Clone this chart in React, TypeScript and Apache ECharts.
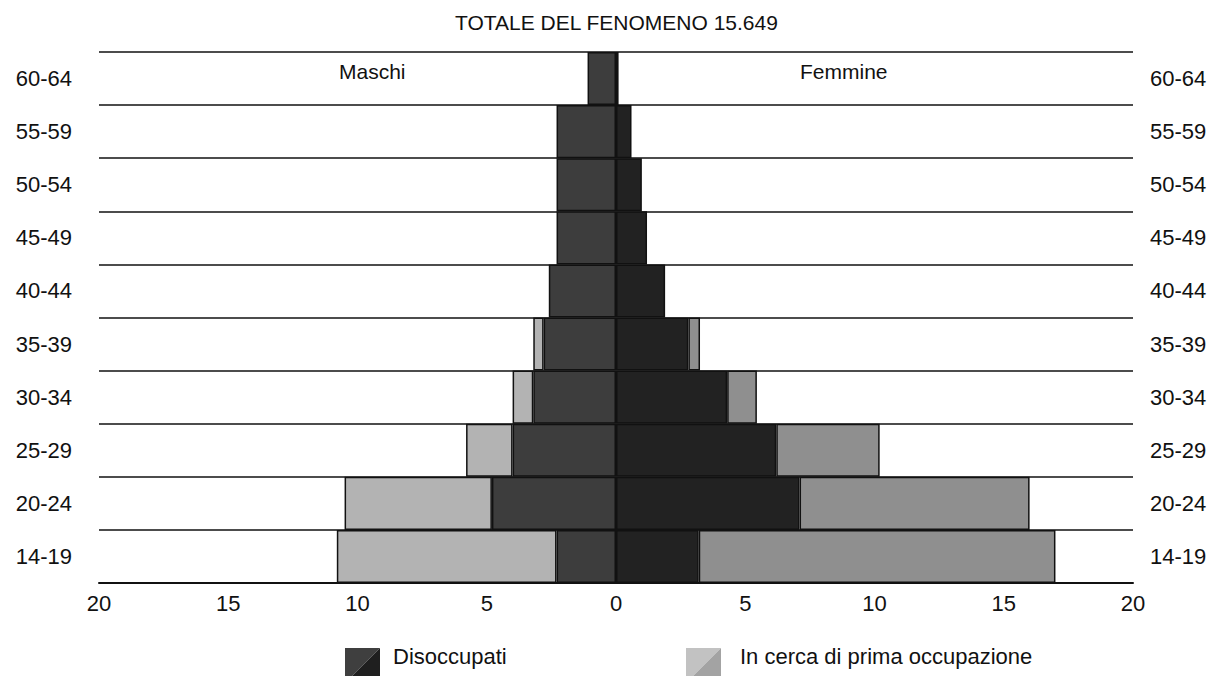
import React, { useEffect, useRef } from "react";
import * as echarts from "echarts";

const ageGroups = ["14-19", "20-24", "25-29", "30-34", "35-39", "40-44", "45-49", "50-54", "55-59", "60-64"];
// Maschi (left side)
const maleDisoccupati = [2.3, 4.8, 4.0, 3.2, 2.8, 2.6, 2.3, 2.3, 2.3, 1.1];
const maleInCerca: (number | string)[] = [8.5, 5.7, 1.8, 0.8, 0.4, "-", "-", "-", "-", "-"];
// Femmine (right side)
const femaleDisoccupati = [3.2, 7.1, 6.2, 4.3, 2.8, 1.9, 1.2, 1.0, 0.6, 0.1];
const femaleInCerca: (number | string)[] = [13.8, 8.9, 4.0, 1.15, 0.45, "-", "-", "-", "-", "-"];
const xTicks = { min: -20, max: 20, interval: 5 };
const titleText = "TOTALE DEL FENOMENO 15.649";
const sideLabels = ["Maschi", "Femmine"];
const legendLabels = ["Disoccupati", "In cerca di prima occupazione"];

const FONT = "'Liberation Sans', Arial, Helvetica, sans-serif";
const TXT = "#111111";

export default function App() {
  const ref = useRef<HTMLDivElement>(null);
  useEffect(() => {
    if (!ref.current) return;
    const chart = echarts.init(ref.current, undefined, { renderer: "svg" });
    const neg = (arr: (number | string)[]) => arr.map((v) => (typeof v === "number" ? -v : v));
    const barStyle = (color: string) => ({ color, borderColor: "#111", borderWidth: 1.5 });
    chart.setOption({
      animation: false,
      backgroundColor: "#fff",
      textStyle: { fontFamily: FONT },
      title: {
        text: titleText,
        left: 450,
        top: 7,
        textStyle: { fontFamily: FONT, fontSize: 21, fontWeight: "normal", color: TXT },
      },
      grid: { left: 99, right: 89, top: 52, bottom: 93 },
      xAxis: {
        type: "value",
        min: xTicks.min,
        max: xTicks.max,
        interval: xTicks.interval,
        axisLine: { show: true, lineStyle: { color: "#111", width: 2 } },
        axisTick: { show: false },
        splitLine: { show: false },
        axisLabel: {
          fontFamily: FONT,
          fontSize: 22,
          color: TXT,
          margin: 9,
          formatter: (v: number) => String(Math.abs(v)),
        },
      },
      yAxis: [
        {
          type: "category",
          data: ageGroups,
          position: "left",
          axisLine: { show: false },
          axisTick: { show: false },
          splitLine: { show: true, lineStyle: { color: "#111", width: 1.5 } },
          axisLabel: { fontFamily: FONT, fontSize: 22, color: TXT, margin: 27, padding: [0, 0, 2, 0] },
        },
        {
          type: "category",
          data: ageGroups,
          position: "right",
          axisLine: { show: false },
          axisTick: { show: false },
          splitLine: { show: false },
          axisLabel: {
            fontFamily: FONT,
            fontSize: 22,
            color: TXT,
            margin: 17,
            align: "left",
            padding: [9, 0, 0, 0],
          },
        },
      ],
      series: [
        {
          name: "Maschi Disoccupati",
          type: "bar",
          stack: "all",
          barWidth: "100%",
          data: neg(maleDisoccupati),
          itemStyle: barStyle("#3d3d3d"),
        },
        {
          name: "Femmine Disoccupati",
          type: "bar",
          stack: "all",
          barWidth: "100%",
          data: femaleDisoccupati,
          itemStyle: barStyle("#222222"),
        },
        {
          name: "Maschi In cerca",
          type: "bar",
          stack: "all",
          barWidth: "100%",
          data: neg(maleInCerca),
          itemStyle: barStyle("#b3b3b3"),
        },
        {
          name: "Femmine In cerca",
          type: "bar",
          stack: "all",
          barWidth: "100%",
          data: femaleInCerca,
          itemStyle: barStyle("#8f8f8f"),
        },
      ],
      graphic: [
        {
          type: "text",
          left: 339,
          top: 61,
          style: { text: sideLabels[0], font: `21px ${FONT}`, fill: TXT },
        },
        {
          type: "text",
          left: 800,
          top: 61,
          style: { text: sideLabels[1], font: `21px ${FONT}`, fill: TXT },
        },
        {
          type: "polygon",
          shape: { points: [[345, 648], [380, 648], [345, 683]] },
          style: { fill: "#3f3f3f" },
        },
        {
          type: "polygon",
          shape: { points: [[380, 648], [380, 683], [345, 683]] },
          style: { fill: "#1f1f1f" },
        },
        {
          type: "text",
          left: 393,
          top: 645,
          style: { text: legendLabels[0], font: `22px ${FONT}`, fill: TXT },
        },
        {
          type: "polygon",
          shape: { points: [[686, 648], [721, 648], [686, 683]] },
          style: { fill: "#c2c2c2" },
        },
        {
          type: "polygon",
          shape: { points: [[721, 648], [721, 683], [686, 683]] },
          style: { fill: "#a3a3a3" },
        },
        {
          type: "text",
          left: 740,
          top: 645,
          style: { text: legendLabels[1], font: `22px ${FONT}`, fill: TXT },
        },
      ],
    });
    return () => chart.dispose();
  }, []);
  return (
    <div
      ref={ref}
      style={{ position: "fixed", left: 0, top: 0, width: 1222, height: 676, background: "#fff" }}
    />
  );
}
